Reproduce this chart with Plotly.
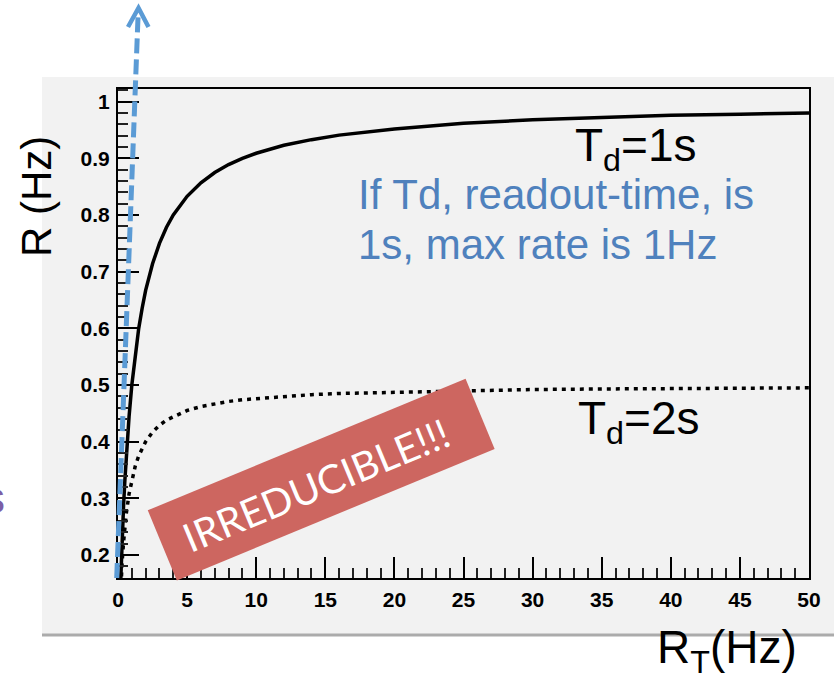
import math
import plotly.graph_objects as go

# ---- data ----
rt_values = [0.1, 0.2, 0.3, 0.4, 0.5, 0.6, 0.8, 1.0, 1.25, 1.5, 1.75, 2.0, 2.5, 3.0, 3.5,
             4.0, 5.0, 6.0, 7.0, 8.0, 9.0, 10.0, 12.0, 14.0, 16.0, 18.0, 20.0, 25.0,
             30.0, 35.0, 40.0, 45.0, 50.0]
r_td1 = [0.091, 0.167, 0.231, 0.286, 0.333, 0.375, 0.444, 0.500, 0.556, 0.600, 0.636,
         0.667, 0.714, 0.750, 0.778, 0.800, 0.833, 0.857, 0.875, 0.889, 0.900, 0.909,
         0.923, 0.933, 0.941, 0.947, 0.952, 0.962, 0.968, 0.972, 0.976, 0.978, 0.980]
r_td2 = [0.083, 0.143, 0.188, 0.222, 0.250, 0.273, 0.308, 0.333, 0.357, 0.375, 0.389,
         0.400, 0.417, 0.429, 0.438, 0.444, 0.455, 0.462, 0.467, 0.471, 0.474, 0.476,
         0.480, 0.483, 0.485, 0.486, 0.488, 0.490, 0.492, 0.493, 0.494, 0.494, 0.495]
x_ticks = [0, 5, 10, 15, 20, 25, 30, 35, 40, 45, 50]
y_ticks = [0.2, 0.3, 0.4, 0.5, 0.6, 0.7, 0.8, 0.9, 1.0]
y_tick_text = ["0.2", "0.3", "0.4", "0.5", "0.6", "0.7", "0.8", "0.9", "1"]

W, H = 834, 675
L, R, T, B = 118, 25, 89, 97
PW, PH = W - L - R, H - T - B


def px(x):
    return (x - L) / PW


def py(y):
    return (T + PH - y) / PH


fig = go.Figure()
fig.add_trace(go.Scatter(x=rt_values, y=r_td1, mode="lines",
                         line=dict(color="black", width=3.5), showlegend=False))
fig.add_trace(go.Scatter(x=rt_values, y=r_td2, mode="lines",
                         line=dict(color="black", width=3.5, dash="4px,5px"),
                         showlegend=False))

shapes = []
# grey panel
shapes.append(dict(type="rect", xref="paper", yref="paper", layer="below",
                   x0=px(42), x1=px(840), y0=py(634), y1=py(77),
                   fillcolor="#F2F2F2", line=dict(width=0)))
shapes.append(dict(type="line", xref="paper", yref="paper", layer="below",
                   x0=px(42), x1=px(840), y0=py(635), y1=py(635),
                   line=dict(color="#ABABAB", width=3)))

# red rotated box
cx, cy, bw, bh, ang = 321.2, 479.6, 344, 76, math.radians(22.5)
ux, uy = math.cos(ang), -math.sin(ang)
vx, vy = math.sin(ang), math.cos(ang)
corners = []
for sx, sy in [(-1, -1), (1, -1), (1, 1), (-1, 1)]:
    X = cx + sx * bw / 2 * ux + sy * bh / 2 * vx
    Y = cy + sx * bw / 2 * uy + sy * bh / 2 * vy
    corners.append((px(X), py(Y)))
path = "M " + " L ".join(f"{a:.5f},{b:.5f}" for a, b in corners) + " Z"
shapes.append(dict(type="path", xref="paper", yref="paper", layer="above",
                   path=path, fillcolor="#CD6660", line=dict(width=0)))

# blue dashed arrow
shapes.append(dict(type="line", xref="paper", yref="paper", layer="above",
                   x0=px(116.7), y0=py(578), x1=px(138.2), y1=py(12),
                   line=dict(color="#5B9BD5", width=5, dash="15px,6px")))
shapes.append(dict(type="path", xref="paper", yref="paper", layer="above",
                   path=f"M {px(128):.5f},{py(27):.5f} L {px(138.5):.5f},{py(8):.5f} L {px(148.5):.5f},{py(27):.5f}",
                   line=dict(color="#5B9BD5", width=4.5)))

ann = []
font_main = "Liberation Sans, Arial, sans-serif"
ann.append(dict(xref="paper", yref="paper", x=px(573), y=py(149), xanchor="left",
                yanchor="middle", text="T<sub>d</sub>=1s", showarrow=False,
                font=dict(family=font_main, size=46, color="black")))
ann.append(dict(xref="paper", yref="paper", x=px(576), y=py(421), xanchor="left",
                yanchor="middle", text="T<sub>d</sub>=2s", showarrow=False,
                font=dict(family=font_main, size=46, color="black")))
ann.append(dict(xref="paper", yref="paper", x=px(356), y=py(194), xanchor="left",
                yanchor="middle", text="If Td, readout-time, is", showarrow=False,
                font=dict(family=font_main, size=42, color="#4F81BD")))
ann.append(dict(xref="paper", yref="paper", x=px(356), y=py(244), xanchor="left",
                yanchor="middle", text="1s, max rate is 1Hz", showarrow=False,
                font=dict(family=font_main, size=42, color="#4F81BD")))
ann.append(dict(xref="paper", yref="paper", x=px(37), y=py(197), xanchor="center",
                yanchor="middle", text="R (Hz)", textangle=-90, showarrow=False,
                font=dict(family=font_main, size=42, color="black")))
ann.append(dict(xref="paper", yref="paper", x=px(799), y=py(650), xanchor="right",
                yanchor="middle", text="R<sub>T</sub>(Hz)", showarrow=False,
                font=dict(family=font_main, size=46, color="black")))
ann.append(dict(xref="paper", yref="paper", x=px(316), y=py(485), xanchor="center",
                yanchor="middle", text="IRREDUCIBLE!!!", textangle=-22.5, showarrow=False,
                font=dict(family="Lato, sans-serif", size=40, color="white")))
ann.append(dict(xref="paper", yref="paper", x=px(7), y=py(497), xanchor="right",
                yanchor="middle", text="s", showarrow=False,
                font=dict(family=font_main, size=44, color="#7B5EA7")))

tickfont = dict(family="Liberation Sans, Arial, sans-serif", size=21, color="black",
                weight="bold")
fig.update_layout(
    width=W, height=H,
    margin=dict(l=L, r=R, t=T, b=B, pad=0),
    paper_bgcolor="white",
    plot_bgcolor="rgba(0,0,0,0)",
    shapes=shapes,
    annotations=ann,
    showlegend=False,
    xaxis=dict(range=[0, 50], tickmode="array", tickvals=x_ticks,
               ticktext=[str(v) for v in x_ticks],
               ticks="inside", ticklen=21, tickwidth=1.5, tickcolor="black",
               minor=dict(dtick=1, ticks="inside", ticklen=10, tickwidth=1.5, tickcolor="#222"),
               showgrid=False, zeroline=False, showline=True, linecolor="black",
               linewidth=2, mirror=True, tickfont=tickfont, ticklabelstandoff=2),
    yaxis=dict(range=[0.1594, 1.0224], tickmode="array", tickvals=y_ticks,
               ticktext=y_tick_text,
               ticks="inside", ticklen=21, tickwidth=1.5, tickcolor="black",
               minor=dict(dtick=0.02, tick0=0, ticks="inside", ticklen=10, tickwidth=1.5, tickcolor="#222"),
               showgrid=False, zeroline=False, showline=True, linecolor="black",
               linewidth=2, mirror=True, tickfont=tickfont, ticklabelstandoff=2),
)

fig.write_html("out.html", config={"displayModeBar": False},
               post_script="document.body.style.margin='0';document.body.style.padding='0';document.body.style.overflow='hidden';")
